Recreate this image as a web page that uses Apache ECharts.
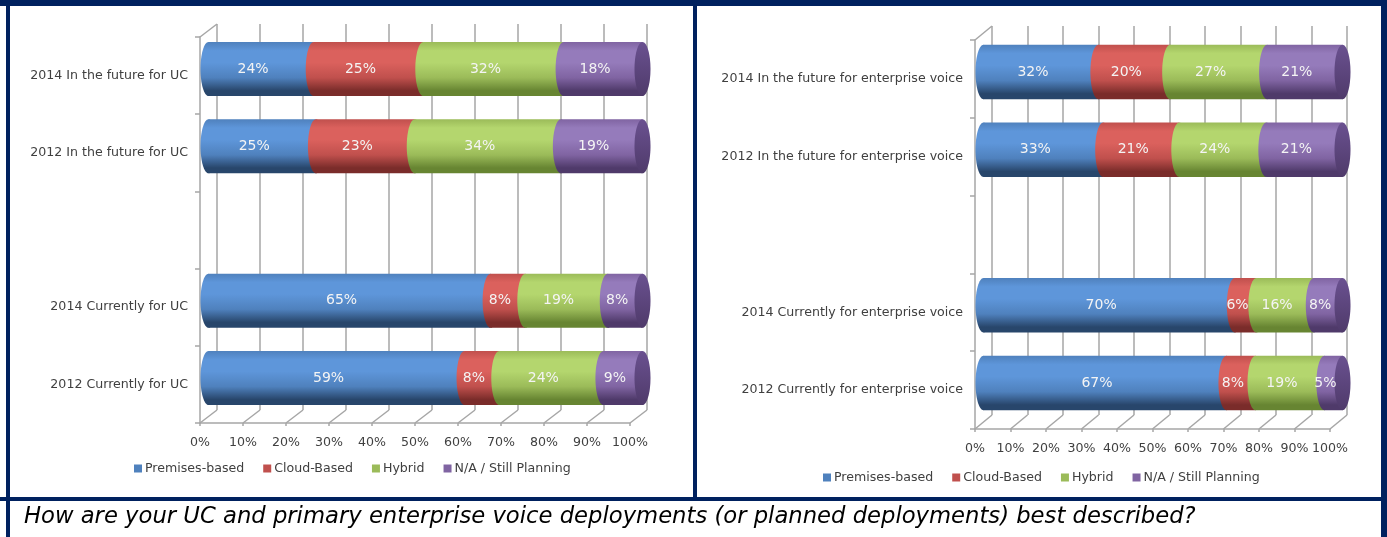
<!DOCTYPE html>
<html>
<head>
<meta charset="utf-8">
<script src="https://cdn.jsdelivr.net/npm/echarts@6/dist/echarts.min.js"></script>
<style>
  html, body { margin: 0; padding: 0; background: #ffffff; }
  #chart { width: 1387px; height: 537px; }
</style>
</head>
<body>
<div id="chart"></div>
<script>
// ---- data ----
const seriesNames = ['Premises-based', 'Cloud-Based', 'Hybrid', 'N/A / Still Planning'];

// category rows, bottom to top; the empty string is the spacer row between the two groups
const ucCategories = ['2012 Currently for UC', '2014 Currently for UC', '', '2012 In the future for UC', '2014 In the future for UC'];
const evCategories = ['2012 Currently for enterprise voice', '2014 Currently for enterprise voice', '', '2012 In the future for enterprise voice', '2014 In the future for enterprise voice'];

const ucPremises = [59, 65, null, 25, 24];
const ucCloud    = [8, 8, null, 23, 25];
const ucHybrid   = [24, 19, null, 34, 32];
const ucPlanning = [9, 8, null, 19, 18];

const evPremises = [67, 70, null, 33, 32];
const evCloud    = [8, 6, null, 21, 20];
const evHybrid   = [19, 16, null, 24, 27];
const evPlanning = [5, 8, null, 21, 21];

const pctTicks = [0, 10, 20, 30, 40, 50, 60, 70, 80, 90, 100];

// ---- styling ----
const FONT = 'DejaVu Sans';
const LABEL_SIZE = 12.6;
const GRID_LINE = '#a6a6a6';
const NAVY = '#00215f';
const CAP_RX = 8;
const palette = [
  { base: '#4F81BD', light: '#5E96DA', dark: '#28466B', cap: '#3F6aa0' },
  { base: '#C0504D', light: '#DB615D', dark: '#7A2C2A', cap: '#A54441' },
  { base: '#9BBB59', light: '#B4D66E', dark: '#678532', cap: '#86A44A' },
  { base: '#8064A2', light: '#957BBB', dark: '#4F3A6A', cap: '#6A5190' }
];

function cylinderFill(c) {
  return new echarts.graphic.LinearGradient(0, 0, 0, 1, [
    { offset: 0, color: c.base },
    { offset: 0.16, color: c.light },
    { offset: 0.38, color: c.light },
    { offset: 0.66, color: c.base },
    { offset: 0.9, color: c.dark },
    { offset: 1, color: c.dark }
  ]);
}
function capFill(c) {
  return new echarts.graphic.LinearGradient(0, 0, 0, 1, [
    { offset: 0, color: c.cap },
    { offset: 1, color: c.dark }
  ]);
}

// Panel layout: front plane of the 3-D box, depth offset of the back wall
const panels = [
  {
    cats: ucCategories,
    values: [ucPremises, ucCloud, ucHybrid, ucPlanning],
    left: 200, top: 37, width: 430, height: 386, dx: 17, dy: -13,
    legendLeft: 129, legendTop: 457
  },
  {
    cats: evCategories,
    values: [evPremises, evCloud, evHybrid, evPlanning],
    left: 975, top: 40, width: 355, height: 389, dx: 17, dy: -14,
    legendLeft: 818, legendTop: 466
  }
];

const grid = [], xAxis = [], yAxis = [], series = [], legend = [];

panels.forEach((p, pi) => {
  const gFront = grid.length;
  grid.push({ left: p.left, top: p.top, width: p.width, height: p.height });
  // cylinders sit halfway into the box; slight perspective stretch
  grid.push({ left: p.left + p.dx / 2, top: p.top + p.dy / 2, width: p.width + 4, height: p.height });
  grid.push({ left: p.left + p.dx, top: p.top + p.dy, width: p.width, height: p.height });
  const gMid = gFront + 1, gBack = gFront + 2;

  // front plane: labels, axis lines, ticks
  xAxis.push({
    type: 'value', gridIndex: gFront, min: 0, max: 100, interval: 10,
    axisLine: { show: true, lineStyle: { color: GRID_LINE, width: 1.5 } },
    axisTick: { show: true, length: 3, lineStyle: { color: GRID_LINE, width: 1.5 } },
    splitLine: { show: false },
    axisLabel: { formatter: '{value}%', color: '#404040', fontFamily: FONT, fontSize: LABEL_SIZE, margin: 13 }
  });
  yAxis.push({
    type: 'category', gridIndex: gFront, data: p.cats,
    axisLine: { show: true, lineStyle: { color: GRID_LINE, width: 1.5 } },
    axisTick: { show: true, length: 5, lineStyle: { color: GRID_LINE, width: 1.5 } },
    axisLabel: { color: '#404040', fontFamily: FONT, fontSize: LABEL_SIZE, margin: 12 }
  });
  // middle plane: the cylinders
  xAxis.push({ type: 'value', gridIndex: gMid, min: 0, max: 100, interval: 10, show: false });
  yAxis.push({ type: 'category', gridIndex: gMid, data: p.cats, show: false });
  // back wall: vertical gridlines
  xAxis.push({
    type: 'value', gridIndex: gBack, min: 0, max: 100, interval: 10,
    axisLine: { show: false }, axisTick: { show: false }, axisLabel: { show: false },
    splitLine: { show: true, lineStyle: { color: GRID_LINE, width: 1.5 } }
  });
  yAxis.push({ type: 'category', gridIndex: gBack, data: p.cats, show: false });

  // floor diagonals and the top edge of the side wall
  series.push({
    type: 'custom', xAxisIndex: gFront, yAxisIndex: gFront, silent: true, clip: false, z: 1,
    data: pctTicks.map(v => [v]),
    renderItem: function (params, api) {
      const cs = params.coordSys;
      const x = api.coord([api.value(0), 0])[0];
      const yb = cs.y + cs.height;
      const kids = [{
        type: 'line', shape: { x1: x, y1: yb, x2: x + p.dx, y2: yb + p.dy },
        style: { stroke: GRID_LINE, lineWidth: 1.5 }
      }];
      if (api.value(0) === 0) {
        kids.push({
          type: 'line', shape: { x1: x, y1: cs.y, x2: x + p.dx, y2: cs.y + p.dy },
          style: { stroke: GRID_LINE, lineWidth: 1.5 }
        });
      }
      return { type: 'group', children: kids };
    }
  });

  // 100% stacked cylinders
  const rowTotals = p.cats.map((c, r) => p.values.reduce((s, arr) => s + (arr[r] || 0), 0));
  p.values.forEach((arr, si) => {
    const data = [];
    arr.forEach((v, r) => {
      if (v == null) return;
      let before = 0;
      for (let k = 0; k < si; k++) before += p.values[k][r];
      const start = before / rowTotals[r] * 100;
      const end = (before + v) / rowTotals[r] * 100;
      data.push([start, end, r, v, si === p.values.length - 1 ? 1 : 0]);
    });
    const col = palette[si];
    series.push({
      type: 'custom', name: seriesNames[si], xAxisIndex: gMid, yAxisIndex: gMid,
      clip: false, z: 3,
      itemStyle: { color: col.base },
      encode: { x: [0, 1], y: 2 },
      data: data,
      renderItem: function (params, api) {
        const p0 = api.coord([api.value(0), api.value(2)]);
        const p1 = api.coord([api.value(1), api.value(2)]);
        const band = api.size([0, 1])[1];
        const h = band * 0.7, ry = h / 2, rx = CAP_RX;
        const cy = p0[1];
        const fill = cylinderFill(col);
        const kids = [
          { type: 'ellipse', shape: { cx: p0[0], cy: cy, rx: rx, ry: ry }, style: { fill: fill } },
          { type: 'rect', shape: { x: p0[0], y: cy - ry, width: p1[0] - p0[0], height: h }, style: { fill: fill } }
        ];
        if (api.value(4) === 1) {
          kids.push({ type: 'ellipse', shape: { cx: p1[0], cy: cy, rx: rx, ry: ry }, style: { fill: capFill(col) } });
        }
        // label sits centred on the visible face of the segment
        kids.push({
          type: 'text', z2: 50,
          x: (p0[0] + p1[0]) / 2 - rx, y: cy,
          style: {
            text: api.value(3) + '%', fill: '#f4f4f4',
            font: '14px "' + FONT + '"', align: 'center', verticalAlign: 'middle'
          }
        });
        return { type: 'group', children: kids };
      }
    });
  });

  legend.push({
    left: p.legendLeft, top: p.legendTop, orient: 'horizontal',
    data: seriesNames, icon: 'rect', itemWidth: 8, itemHeight: 8, itemGap: 19,
    textStyle: { color: '#404040', fontFamily: FONT, fontSize: LABEL_SIZE, padding: [0, 0, 0, -2] },
    selectedMode: false
  });
});

const chart = echarts.init(document.getElementById('chart'), null, { renderer: 'canvas' });
chart.setOption({
  animation: false,
  backgroundColor: '#ffffff',
  grid: grid,
  xAxis: xAxis,
  yAxis: yAxis,
  legend: legend,
  series: series,
  graphic: [
    // frame around the two panels and the caption row
    { type: 'rect', shape: { x: 0, y: 0, width: 1387, height: 6 }, style: { fill: NAVY }, silent: true },
    { type: 'rect', shape: { x: 6, y: 0, width: 4, height: 537 }, style: { fill: NAVY }, silent: true },
    { type: 'rect', shape: { x: 693, y: 0, width: 4, height: 500 }, style: { fill: NAVY }, silent: true },
    { type: 'rect', shape: { x: 1381, y: 0, width: 6, height: 537 }, style: { fill: NAVY }, silent: true },
    { type: 'rect', shape: { x: 0, y: 497, width: 1387, height: 4 }, style: { fill: NAVY }, silent: true },
    {
      type: 'text', left: 24, top: 506, silent: true,
      style: {
        text: 'How are your UC and primary enterprise voice deployments (or planned deployments) best described?',
        font: 'italic 22.7px "DejaVu Sans", sans-serif', fill: '#000000'
      }
    }
  ]
});
</script>
</body>
</html>
